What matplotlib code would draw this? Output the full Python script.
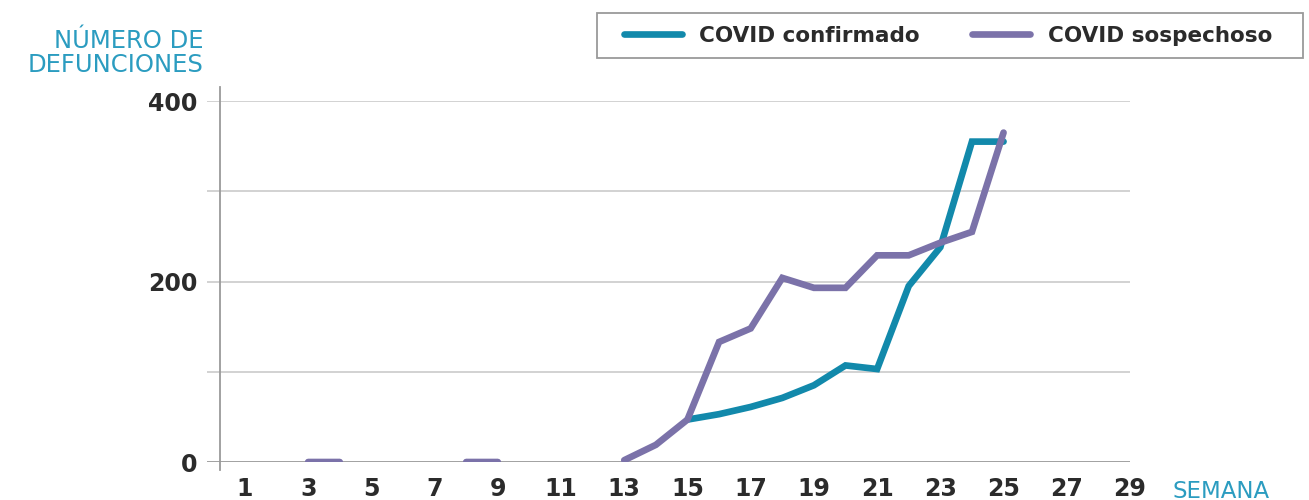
import numpy as np
import matplotlib
matplotlib.use("Agg")
import matplotlib.pyplot as plt
from matplotlib.patches import Rectangle

weeks = list(range(1, 30))
confirmado = [np.nan]*14 + [47, 53, 61, 71, 85, 107, 103, 195, 238, 355, 355] + [np.nan]*4
sospechoso = ([np.nan, np.nan, 0, 0] + [np.nan]*3 + [0, 0] + [np.nan]*3 +
              [2, 19, 47, 133, 148, 204, 193, 193, 229, 229, 243, 255, 365] + [np.nan]*4)
xticks = list(range(1, 30, 2))
yticks_labeled = [0, 200, 400]
ygrid = [100, 200, 300, 400]

TEAL = "#1289ab"
PURPLE = "#7b72a9"
LABEL = "#2b9cc0"
TXT = "#2b2b2b"

plt.rcParams['font.family'] = ['DejaVu Sans']

W, H = 1309, 500
fig = plt.figure(figsize=(W/100, H/100), dpi=100)
ax = fig.add_axes([207/W, 1-462/H, (1130-207)/W, (462-101)/H])
ax.set_xlim(-0.2, 29)
ax.set_ylim(0, 400)

for g in ygrid:
    ax.axhline(g, color="#cfcfcf", lw=1.3, zorder=1)
ax.axhline(0, color="#9a9a9a", lw=1.3, zorder=1)

ax.plot(weeks, confirmado, color=TEAL, lw=4.8, solid_capstyle='round',
        solid_joinstyle='miter', zorder=3, label="COVID confirmado")
ax.plot(weeks, sospechoso, color=PURPLE, lw=4.8, solid_capstyle='round',
        solid_joinstyle='miter', zorder=4, label="COVID sospechoso")

for s in ['top', 'right', 'bottom']:
    ax.spines[s].set_visible(False)
ax.spines['left'].set_position(('data', 0.2))
ax.spines['left'].set_bounds(-9, 415)
ax.spines['left'].set_color("#9a9a9a")
ax.spines['left'].set_linewidth(1.3)

ax.set_xticks(xticks)
ax.set_xticklabels([str(x) for x in xticks], fontsize=17, fontweight='bold', color=TXT)
ax.set_yticks(yticks_labeled)
ax.set_yticklabels([str(y) for y in yticks_labeled], fontsize=17, fontweight='bold', color=TXT)
ax.tick_params(axis='x', length=0, pad=11)
ax.tick_params(axis='y', length=0, pad=16)

fig.text(1172/W, 1-491/H, "SEMANA", color=LABEL, fontsize=16.5,
         ha='left', va='center')
fig.text(203/W, 1-53/H, "NÚMERO DE\nDEFUNCIONES", color=LABEL, fontsize=17.5,
         ha='right', va='center', linespacing=1.0, multialignment='right')

# legend box
fig.patches.append(Rectangle((597/W, 1-58/H), (1303-597)/W, 45/H, transform=fig.transFigure,
                             facecolor='white', edgecolor="#9a9a9a", lw=1.3, zorder=5))
leg = fig.legend(loc='center left', bbox_to_anchor=(602/W, 1-35.5/H), ncol=2, frameon=False,
                 prop={'size': 15.5, 'weight': 'bold'},
                 handlelength=2.7, columnspacing=2.45, handletextpad=0.8, borderpad=0.5)
leg.set_zorder(6)
for t in leg.get_texts():
    t.set_color(TXT)

fig.savefig("out.png", dpi=100)
